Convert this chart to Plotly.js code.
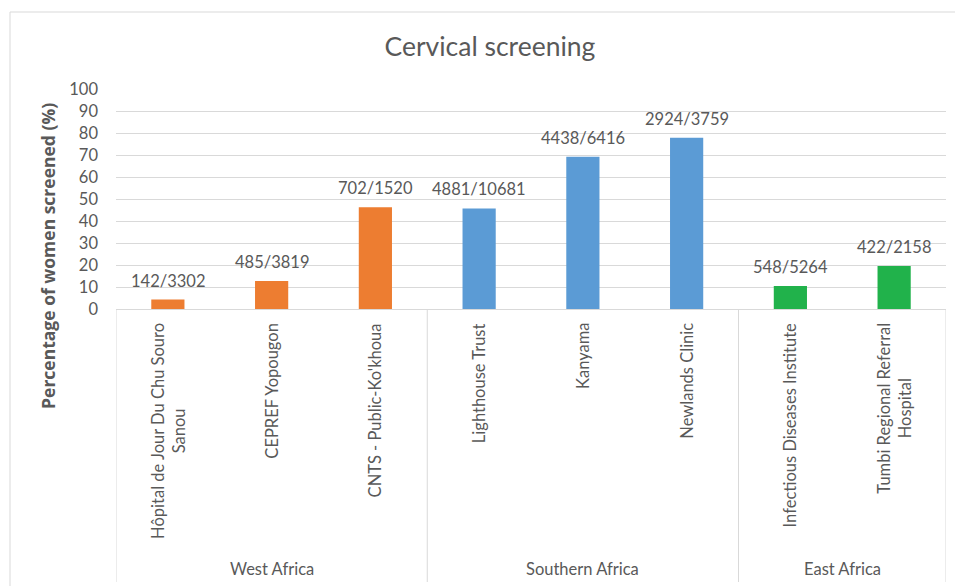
<!DOCTYPE html>
<html>
<head>
<meta charset="utf-8">
<script src="https://cdn.plot.ly/plotly-3.0.1.min.js"></script>
<style>html,body{margin:0;padding:0;background:#fff;}#chart{width:955px;height:586px;}</style>
</head>
<body>
<div id="chart"></div>
<script>
const categories = [
  "Hôpital de Jour Du Chu Souro<br>Sanou",
  "CEPREF Yopougon",
  "CNTS - Public-Ko'khoua",
  "Lighthouse Trust",
  "Kanyama",
  "Newlands Clinic",
  "Infectious Diseases Institute",
  "Tumbi Regional Referral<br>Hospital"
];
const regions = ["West Africa", "West Africa", "West Africa", "Southern Africa", "Southern Africa", "Southern Africa", "East Africa", "East Africa"];
const percentScreened = [4.3, 12.7, 46.2, 45.7, 69.2, 77.8, 10.4, 19.6];
const barLabels = ["142/3302", "485/3819", "702/1520", "4881/10681", "4438/6416", "2924/3759", "548/5264", "422/2158"];
const regionNames = ["West Africa", "Southern Africa", "East Africa"];
const regionColors = {"West Africa": "#ED7D31", "Southern Africa": "#5B9BD5", "East Africa": "#21B24B"};

const FONT = "Lato, 'Open Sans', sans-serif";
const GREY = "#595959";
const LINE = "#D9D9D9";

const trace = {
  type: "bar",
  x: categories,
  y: percentScreened,
  cliponaxis: false,
  marker: {color: regions.map(r => regionColors[r])},
  hoverinfo: "x+y"
};

const annotations = [];
// data labels above bars
categories.forEach((c, i) => {
  annotations.push({
    x: c, xref: "x", y: percentScreened[i], yref: "y",
    yshift: 7, xanchor: "center", yanchor: "bottom",
    text: barLabels[i], showarrow: false,
    font: {family: FONT, size: 16.5, color: GREY}
  });
});
// category labels
categories.forEach((c, i) => {
  annotations.push({
    x: c, xref: "x", y: 0, yref: "paper",
    yshift: -12, xanchor: "center", yanchor: "top",
    text: c, textangle: -90, showarrow: false, align: "center",
    font: {family: FONT, size: 16.5, color: GREY}
  });
});
// region labels centred on their categories
regionNames.forEach(rn => {
  const idx = regions.map((r, i) => r === rn ? i : -1).filter(i => i >= 0);
  const mid = (idx[0] + idx[idx.length - 1]) / 2;
  annotations.push({
    x: mid, xref: "x", y: -1.18, yref: "paper",
    xanchor: "center", yanchor: "middle",
    text: rn, showarrow: false,
    font: {family: FONT, size: 16.5, color: GREY}
  });
});
annotations.push({
  x: -0.082, xref: "paper", y: 0.241, yref: "paper",
  xanchor: "center", yanchor: "middle", textangle: -90,
  text: "<b>Percentage of women screened (%)</b>", showarrow: false,
  font: {family: "'Open Sans', Lato, sans-serif", size: 17.5, color: GREY}
});

const shapes = [];
// region separators
const bounds = [-0.5];
regionNames.forEach(rn => {
  const idx = regions.map((r, i) => r === rn ? i : -1).filter(i => i >= 0);
  bounds.push(idx[idx.length - 1] + 0.5);
});
bounds.forEach(b => {
  shapes.push({type: "line", xref: "x", yref: "paper", x0: b, x1: b, y0: 0, y1: -1.241,
    line: {color: LINE, width: 1}});
});
// chart border
shapes.push({type: "rect", xref: "paper", yref: "paper", x0: -0.1277, x1: 1.03, y0: 1.35, y1: -1.35,
  line: {color: LINE, width: 1}, fillcolor: "rgba(0,0,0,0)"});

const layout = {
  width: 955, height: 586,
  margin: {l: 116, r: 9, t: 89, b: 277},
  paper_bgcolor: "#fff", plot_bgcolor: "#fff",
  showlegend: false,
  bargap: 0.68,
  title: {text: "Cervical screening", x: 0.513, xref: "container", xanchor: "center",
    y: 0.92, yref: "container", yanchor: "middle",
    font: {family: FONT, size: 26.5, color: GREY}},
  xaxis: {type: "category", showticklabels: false, ticks: "", showline: true, linecolor: LINE,
    linewidth: 1, showgrid: false, zeroline: false, range: [-0.5, 7.5], fixedrange: true},
  yaxis: {range: [0, 100], dtick: 10, tick0: 0, showgrid: true, gridcolor: LINE, gridwidth: 1,
    zeroline: false, showline: false, ticks: "", ticklabelstandoff: 17,
    tickfont: {family: FONT, size: 16.5, color: GREY}, fixedrange: true},
  annotations: annotations,
  shapes: shapes
};

Plotly.newPlot("chart", [trace], layout, {displayModeBar: false, staticPlot: true});
</script>
</body>
</html>
